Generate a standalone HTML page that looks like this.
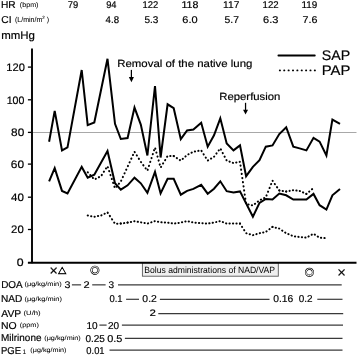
<!DOCTYPE html>
<html><head><meta charset="utf-8"><title>Hemodynamics after lung transplantation</title>
<style>html,body{margin:0;padding:0;background:#fff;width:358px;height:356px;overflow:hidden}svg{display:block}</style>
</head><body>
<svg width="358" height="356" viewBox="0 0 358 356" text-rendering="geometricPrecision">
<rect width="358" height="356" fill="#fff"/>
<g font-family='"Liberation Sans", Arial, sans-serif' fill="#000" stroke="#000" stroke-width="0.18">
<text x="0.96" y="8.25" font-size="10" textLength="14.72" lengthAdjust="spacingAndGlyphs">HR</text>
<text x="19.85" y="7.10" font-size="6.8" textLength="18.60" lengthAdjust="spacingAndGlyphs" stroke-width="0.05">(bpm)</text>
<text x="1.29" y="23.10" font-size="10" textLength="10.26" lengthAdjust="spacingAndGlyphs">CI</text>
<text x="67.71" y="8.30" font-size="9.8" textLength="10.44" lengthAdjust="spacingAndGlyphs">79</text>
<text x="106.16" y="8.30" font-size="9.8" textLength="10.32" lengthAdjust="spacingAndGlyphs">94</text>
<text x="142.59" y="8.30" font-size="9.8" textLength="15.79" lengthAdjust="spacingAndGlyphs">122</text>
<text x="181.40" y="8.30" font-size="9.8" textLength="16.97" lengthAdjust="spacingAndGlyphs">118</text>
<text x="223.13" y="8.30" font-size="9.8" textLength="16.30" lengthAdjust="spacingAndGlyphs">117</text>
<text x="262.58" y="8.30" font-size="9.8" textLength="16.12" lengthAdjust="spacingAndGlyphs">122</text>
<text x="301.56" y="8.30" font-size="9.8" textLength="15.81" lengthAdjust="spacingAndGlyphs">119</text>
<text x="105.58" y="22.70" font-size="9.8" textLength="13.43" lengthAdjust="spacingAndGlyphs">4.8</text>
<text x="144.40" y="22.70" font-size="9.8" textLength="13.93" lengthAdjust="spacingAndGlyphs">5.3</text>
<text x="182.35" y="22.70" font-size="9.8" textLength="15.26" lengthAdjust="spacingAndGlyphs">6.0</text>
<text x="224.58" y="22.70" font-size="9.8" textLength="14.44" lengthAdjust="spacingAndGlyphs">5.7</text>
<text x="263.05" y="22.70" font-size="9.8" textLength="15.32" lengthAdjust="spacingAndGlyphs">6.3</text>
<text x="302.44" y="22.70" font-size="9.8" textLength="14.92" lengthAdjust="spacingAndGlyphs">7.6</text>
<text x="1.23" y="38.70" font-size="11" textLength="33.71" lengthAdjust="spacingAndGlyphs">mmHg</text>
<text x="6.27" y="70.90" font-size="10.9" textLength="18.56" lengthAdjust="spacingAndGlyphs">120</text>
<text x="6.70" y="103.70" font-size="10.9" textLength="17.70" lengthAdjust="spacingAndGlyphs">100</text>
<text x="11.10" y="136.40" font-size="10.9" textLength="13.18" lengthAdjust="spacingAndGlyphs">80</text>
<text x="10.80" y="167.80" font-size="10.9" textLength="13.27" lengthAdjust="spacingAndGlyphs">60</text>
<text x="11.14" y="201.00" font-size="10.9" textLength="12.92" lengthAdjust="spacingAndGlyphs">40</text>
<text x="11.13" y="233.30" font-size="10.9" textLength="12.62" lengthAdjust="spacingAndGlyphs">20</text>
<text x="16.81" y="266.10" font-size="10.9" textLength="6.87" lengthAdjust="spacingAndGlyphs">0</text>
<text x="117.26" y="66.70" font-size="10.4" textLength="135.16" lengthAdjust="spacingAndGlyphs">Removal of the native lung</text>
<text x="219.27" y="99.90" font-size="10.4" textLength="61.10" lengthAdjust="spacingAndGlyphs">Reperfusion</text>
<text x="321.86" y="60.00" font-size="14" textLength="28.47" lengthAdjust="spacingAndGlyphs">SAP</text>
<text x="321.67" y="75.30" font-size="14" textLength="28.70" lengthAdjust="spacingAndGlyphs">PAP</text>
<text x="1.18" y="288.00" font-size="10" textLength="21.44" lengthAdjust="spacingAndGlyphs">DOA</text>
<text x="0.97" y="302.20" font-size="10" textLength="21.30" lengthAdjust="spacingAndGlyphs">NAD</text>
<text x="1.37" y="316.50" font-size="10" textLength="19.86" lengthAdjust="spacingAndGlyphs">AVP</text>
<text x="1.04" y="329.00" font-size="10" textLength="15.66" lengthAdjust="spacingAndGlyphs">NO</text>
<text x="1.08" y="341.20" font-size="10" textLength="40.37" lengthAdjust="spacingAndGlyphs">Milrinone</text>
<text x="1.02" y="353.70" font-size="10" textLength="20.08" lengthAdjust="spacingAndGlyphs">PGE</text>
<text x="24.44" y="286.40" font-size="6.3" textLength="37.24" lengthAdjust="spacingAndGlyphs" stroke-width="0.05">(μg/kg/min)</text>
<text x="24.64" y="300.50" font-size="6.3" textLength="37.24" lengthAdjust="spacingAndGlyphs" stroke-width="0.05">(μg/kg/min)</text>
<text x="23.52" y="315.20" font-size="6.3" textLength="17.16" lengthAdjust="spacingAndGlyphs" stroke-width="0.05">(U/h)</text>
<text x="19.84" y="327.40" font-size="6.3" textLength="19.02" lengthAdjust="spacingAndGlyphs" stroke-width="0.05">(ppm)</text>
<text x="44.25" y="339.70" font-size="6.3" textLength="36.52" lengthAdjust="spacingAndGlyphs" stroke-width="0.05">(μg/kg/min)</text>
<text x="30.35" y="351.90" font-size="6.3" textLength="36.11" lengthAdjust="spacingAndGlyphs" stroke-width="0.05">(μg/kg/min)</text>
<text x="64.50" y="287.90" font-size="9.6" textLength="5.97" lengthAdjust="spacingAndGlyphs">3</text>
<text x="83.45" y="287.80" font-size="9.6" textLength="6.11" lengthAdjust="spacingAndGlyphs">2</text>
<text x="108.62" y="287.90" font-size="9.6" textLength="5.62" lengthAdjust="spacingAndGlyphs">3</text>
<text x="109.42" y="302.10" font-size="10" textLength="13.13" lengthAdjust="spacingAndGlyphs">0.1</text>
<text x="142.38" y="302.10" font-size="10" textLength="14.44" lengthAdjust="spacingAndGlyphs">0.2</text>
<text x="273.19" y="302.20" font-size="10" textLength="20.06" lengthAdjust="spacingAndGlyphs">0.16</text>
<text x="298.70" y="302.20" font-size="10" textLength="13.80" lengthAdjust="spacingAndGlyphs">0.2</text>
<text x="149.53" y="316.30" font-size="9.4" textLength="6.36" lengthAdjust="spacingAndGlyphs">2</text>
<text x="86.55" y="328.60" font-size="10" textLength="11.15" lengthAdjust="spacingAndGlyphs">10</text>
<text x="107.90" y="328.60" font-size="10" textLength="11.10" lengthAdjust="spacingAndGlyphs">20</text>
<text x="85.40" y="341.70" font-size="10" textLength="19.52" lengthAdjust="spacingAndGlyphs">0.25</text>
<text x="107.26" y="341.70" font-size="10" textLength="15.18" lengthAdjust="spacingAndGlyphs">0.5</text>
<text x="86.33" y="353.80" font-size="10" textLength="18.23" lengthAdjust="spacingAndGlyphs">0.01</text>
</g>
<g font-family='"Liberation Sans", Arial, sans-serif' fill="#000" stroke="#000" stroke-width="0.05">
<text x="15.0" y="22.3" font-size="7.3" textLength="34" lengthAdjust="spacingAndGlyphs">(L/min/m<tspan font-size="4.6" dy="-3.3">2</tspan><tspan dy="3.3"> )</tspan></text>
<text x="22.5" y="353.9" font-size="6.6">1</text>
</g>
<line x1="33" y1="132.5" x2="356.5" y2="132.5" stroke="#a8a8a8" stroke-width="1"/>
<rect x="142.4" y="262.8" width="135.9" height="13.4" fill="#efefef" stroke="#5a5a5a" stroke-width="0.9"/>
<line x1="32.0" y1="48.6" x2="32.0" y2="263.3" stroke="#000" stroke-width="1.9"/>
<line x1="27.9" y1="262.7" x2="356.5" y2="262.7" stroke="#000" stroke-width="1.9"/>
<line x1="27.9" y1="67.1" x2="31" y2="67.1" stroke="#000" stroke-width="1.3"/>
<line x1="27.9" y1="99.8" x2="31" y2="99.8" stroke="#000" stroke-width="1.3"/>
<line x1="27.9" y1="132.4" x2="31" y2="132.4" stroke="#000" stroke-width="1.3"/>
<line x1="27.9" y1="164.1" x2="31" y2="164.1" stroke="#000" stroke-width="1.3"/>
<line x1="27.9" y1="197.2" x2="31" y2="197.2" stroke="#000" stroke-width="1.3"/>
<line x1="27.9" y1="229.5" x2="31" y2="229.5" stroke="#000" stroke-width="1.3"/>
<polyline points="49.1,141.8 54.7,110.9 62.0,150.4 67.5,147.4 81.7,70.0 87.7,125.1 94.3,122.5 107.5,58.8 115.0,123.8 120.8,139.0 127.6,138.0 134.5,107.6 140.8,124.6 147.4,155.5 155.0,86.1 160.6,157.5 167.6,104.3 173.7,108.2 180.8,139.2 187.1,130.4 193.4,129.6 201.2,122.7 207.7,146.7 214.0,135.3 220.3,118.3 226.7,143.4 233.5,150.4 240.0,145.4 246.1,176.2 252.9,166.9 259.5,160.2 265.8,146.7 272.5,145.4 279.3,134.0 286.2,127.2 293.3,146.7 299.6,148.4 306.4,150.4 313.5,137.8 319.6,141.6 326.4,155.5 332.4,119.6 340.0,123.9" fill="none" stroke="#000" stroke-width="2" stroke-linejoin="miter" stroke-miterlimit="4"/>
<polyline points="49.1,181.4 54.7,168.1 62.0,190.9 67.5,193.4 81.7,166.9 87.7,177.7 94.3,174.7 107.5,151.0 115.0,183.3 120.8,189.6 127.6,185.3 134.5,177.7 140.8,183.3 147.4,192.9 155.0,171.9 160.6,193.4 167.6,178.8 173.7,178.8 180.8,194.7 187.1,190.9 193.4,188.9 201.2,184.8 207.7,193.7 214.0,188.7 220.3,181.3 226.7,191.2 233.5,192.5 240.0,191.4 252.9,216.8 259.5,202.9 265.8,199.0 272.5,199.5 279.3,193.6 286.2,195.3 293.3,199.6 299.6,199.6 306.4,199.6 313.5,193.9 319.6,205.2 326.4,209.6 332.4,195.3 340.0,189.0" fill="none" stroke="#000" stroke-width="2" stroke-linejoin="miter" stroke-miterlimit="4"/>
<g stroke="#000" stroke-width="2.0" fill="none" stroke-linecap="round">
<line x1="87.7" y1="172.2" x2="94.3" y2="179.5" stroke-dasharray="0.25 3.56" stroke-dashoffset="0.00"/>
<line x1="94.3" y1="179.5" x2="101.0" y2="176.2" stroke-dasharray="0.25 3.32" stroke-dashoffset="2.08"/>
<line x1="101.0" y1="176.2" x2="107.5" y2="166.1" stroke-dasharray="0.25 3.69" stroke-dashoffset="2.66"/>
<line x1="107.5" y1="166.1" x2="115.0" y2="188.4" stroke-dasharray="0.25 3.86" stroke-dashoffset="2.99"/>
<line x1="115.0" y1="188.4" x2="120.8" y2="181.5" stroke-dasharray="0.25 3.59" stroke-dashoffset="1.74"/>
<line x1="120.8" y1="181.5" x2="134.5" y2="151.7" stroke-dasharray="0.25 3.79" stroke-dashoffset="3.24"/>
<line x1="134.5" y1="151.7" x2="140.8" y2="161.8" stroke-dasharray="0.25 3.70" stroke-dashoffset="3.63"/>
<line x1="140.8" y1="161.8" x2="147.4" y2="170.7" stroke-dasharray="0.25 3.64" stroke-dashoffset="3.63"/>
<line x1="147.4" y1="170.7" x2="155.0" y2="147.4" stroke-dasharray="0.25 3.86" stroke-dashoffset="3.24"/>
<line x1="155.0" y1="147.4" x2="160.6" y2="167.6" stroke-dasharray="0.25 3.89" stroke-dashoffset="3.08"/>
<line x1="160.6" y1="167.6" x2="167.6" y2="156.0" stroke-dasharray="0.25 3.71" stroke-dashoffset="3.21"/>
<line x1="167.6" y1="156.0" x2="173.7" y2="156.0" stroke-dasharray="0.25 3.20" stroke-dashoffset="0.81"/>
<line x1="173.7" y1="156.0" x2="180.8" y2="160.6" stroke-dasharray="0.25 3.38" stroke-dashoffset="0.01"/>
<line x1="180.8" y1="160.6" x2="187.1" y2="155.0" stroke-dasharray="0.25 3.48" stroke-dashoffset="1.24"/>
<line x1="187.1" y1="155.0" x2="193.4" y2="151.7" stroke-dasharray="0.25 3.33" stroke-dashoffset="2.12"/>
<line x1="193.4" y1="151.7" x2="201.2" y2="150.4" stroke-dasharray="0.25 3.22" stroke-dashoffset="2.00"/>
<line x1="201.2" y1="150.4" x2="207.7" y2="160.6" stroke-dasharray="0.25 3.69" stroke-dashoffset="3.39"/>
<line x1="207.7" y1="160.6" x2="214.0" y2="156.8" stroke-dasharray="0.25 3.36" stroke-dashoffset="3.36"/>
<line x1="214.0" y1="156.8" x2="220.3" y2="148.3" stroke-dasharray="0.25 3.64" stroke-dashoffset="3.76"/>
<line x1="220.3" y1="148.3" x2="226.7" y2="160.6" stroke-dasharray="0.25 3.76" stroke-dashoffset="2.76"/>
<line x1="226.7" y1="160.6" x2="233.5" y2="163.1" stroke-dasharray="0.25 3.27" stroke-dashoffset="0.53"/>
<line x1="233.5" y1="163.1" x2="240.0" y2="161.8" stroke-dasharray="0.25 3.22" stroke-dashoffset="0.73"/>
<line x1="240.0" y1="161.8" x2="246.1" y2="204.1" stroke-dasharray="0.25 3.94" stroke-dashoffset="0.50"/>
<line x1="246.1" y1="204.1" x2="252.9" y2="205.4" stroke-dasharray="0.25 3.22" stroke-dashoffset="1.12"/>
<line x1="252.9" y1="205.4" x2="259.5" y2="200.3" stroke-dasharray="0.25 3.43" stroke-dashoffset="1.17"/>
<line x1="259.5" y1="200.3" x2="265.8" y2="197.3" stroke-dasharray="0.25 3.31" stroke-dashoffset="2.07"/>
<line x1="265.8" y1="197.3" x2="272.5" y2="180.6" stroke-dasharray="0.25 3.82" stroke-dashoffset="2.21"/>
<line x1="272.5" y1="180.6" x2="279.3" y2="190.5" stroke-dasharray="0.25 3.66" stroke-dashoffset="3.76"/>
<line x1="279.3" y1="190.5" x2="286.2" y2="191.5" stroke-dasharray="0.25 3.21" stroke-dashoffset="0.10"/>
<line x1="286.2" y1="191.5" x2="293.3" y2="190.2" stroke-dasharray="0.25 3.22" stroke-dashoffset="0.15"/>
<line x1="293.3" y1="190.2" x2="299.6" y2="190.9" stroke-dasharray="0.25 3.21" stroke-dashoffset="0.43"/>
<line x1="299.6" y1="190.9" x2="306.4" y2="193.9" stroke-dasharray="0.25 3.30" stroke-dashoffset="3.40"/>
<line x1="306.4" y1="193.9" x2="313.5" y2="188.0" stroke-dasharray="0.25 3.46" stroke-dashoffset="0.20"/>
<line x1="87.7" y1="215.5" x2="94.3" y2="216.8" stroke-dasharray="0.25 3.22" stroke-dashoffset="0.00"/>
<line x1="94.3" y1="216.8" x2="101.0" y2="215.5" stroke-dasharray="0.25 3.22" stroke-dashoffset="3.25"/>
<line x1="101.0" y1="215.5" x2="107.5" y2="212.4" stroke-dasharray="0.25 3.31" stroke-dashoffset="3.22"/>
<line x1="107.5" y1="212.4" x2="115.0" y2="223.7" stroke-dasharray="0.25 3.68" stroke-dashoffset="3.64"/>
<line x1="115.0" y1="223.7" x2="120.8" y2="223.6" stroke-dasharray="0.25 3.20" stroke-dashoffset="1.32"/>
<line x1="120.8" y1="223.6" x2="127.6" y2="222.6" stroke-dasharray="0.25 3.21" stroke-dashoffset="0.22"/>
<line x1="127.6" y1="222.6" x2="134.5" y2="221.3" stroke-dasharray="0.25 3.22" stroke-dashoffset="0.17"/>
<line x1="134.5" y1="221.3" x2="140.8" y2="222.3" stroke-dasharray="0.25 3.21" stroke-dashoffset="0.25"/>
<line x1="140.8" y1="222.3" x2="147.4" y2="223.6" stroke-dasharray="0.25 3.22" stroke-dashoffset="3.17"/>
<line x1="147.4" y1="223.6" x2="155.0" y2="221.1" stroke-dasharray="0.25 3.26" stroke-dashoffset="2.99"/>
<line x1="155.0" y1="221.1" x2="160.6" y2="222.3" stroke-dasharray="0.25 3.23" stroke-dashoffset="0.46"/>
<line x1="160.6" y1="222.3" x2="167.6" y2="222.6" stroke-dasharray="0.25 3.20" stroke-dashoffset="2.69"/>
<line x1="167.6" y1="222.6" x2="173.7" y2="223.6" stroke-dasharray="0.25 3.21" stroke-dashoffset="2.81"/>
<line x1="173.7" y1="223.6" x2="180.8" y2="222.6" stroke-dasharray="0.25 3.21" stroke-dashoffset="2.06"/>
<line x1="180.8" y1="222.6" x2="187.1" y2="221.1" stroke-dasharray="0.25 3.23" stroke-dashoffset="2.32"/>
<line x1="187.1" y1="221.1" x2="193.4" y2="222.6" stroke-dasharray="0.25 3.23" stroke-dashoffset="1.84"/>
<line x1="193.4" y1="222.6" x2="201.2" y2="223.1" stroke-dasharray="0.25 3.20" stroke-dashoffset="1.34"/>
<line x1="201.2" y1="223.1" x2="207.7" y2="223.6" stroke-dasharray="0.25 3.20" stroke-dashoffset="2.25"/>
<line x1="207.7" y1="223.6" x2="214.0" y2="222.6" stroke-dasharray="0.25 3.21" stroke-dashoffset="1.87"/>
<line x1="214.0" y1="222.6" x2="220.3" y2="221.1" stroke-dasharray="0.25 3.23" stroke-dashoffset="1.33"/>
<line x1="220.3" y1="221.1" x2="226.7" y2="223.6" stroke-dasharray="0.25 3.28" stroke-dashoffset="0.85"/>
<line x1="226.7" y1="223.6" x2="233.5" y2="223.6" stroke-dasharray="0.25 3.20" stroke-dashoffset="0.65"/>
<line x1="233.5" y1="223.6" x2="240.0" y2="223.6" stroke-dasharray="0.25 3.20" stroke-dashoffset="0.55"/>
<line x1="240.0" y1="223.6" x2="246.1" y2="233.2" stroke-dasharray="0.25 3.69" stroke-dashoffset="0.18"/>
<line x1="246.1" y1="233.2" x2="252.9" y2="235.2" stroke-dasharray="0.25 3.25" stroke-dashoffset="3.25"/>
<line x1="252.9" y1="235.2" x2="259.5" y2="233.2" stroke-dasharray="0.25 3.25" stroke-dashoffset="3.35"/>
<line x1="259.5" y1="233.2" x2="265.8" y2="231.9" stroke-dasharray="0.25 3.22" stroke-dashoffset="3.23"/>
<line x1="265.8" y1="231.9" x2="272.5" y2="226.9" stroke-dasharray="0.25 3.42" stroke-dashoffset="2.87"/>
<line x1="272.5" y1="226.9" x2="279.3" y2="228.6" stroke-dasharray="0.25 3.23" stroke-dashoffset="0.20"/>
<line x1="279.3" y1="228.6" x2="286.2" y2="233.2" stroke-dasharray="0.25 3.39" stroke-dashoffset="0.25"/>
<line x1="286.2" y1="233.2" x2="293.3" y2="236.2" stroke-dasharray="0.25 3.29" stroke-dashoffset="1.23"/>
<line x1="293.3" y1="236.2" x2="299.6" y2="237.0" stroke-dasharray="0.25 3.21" stroke-dashoffset="1.82"/>
<line x1="299.6" y1="237.0" x2="306.4" y2="237.7" stroke-dasharray="0.25 3.21" stroke-dashoffset="1.25"/>
<line x1="306.4" y1="237.7" x2="313.5" y2="233.7" stroke-dasharray="0.25 3.35" stroke-dashoffset="1.22"/>
<line x1="313.5" y1="233.7" x2="319.6" y2="237.7" stroke-dasharray="0.25 3.38" stroke-dashoffset="2.21"/>
<line x1="319.6" y1="237.7" x2="326.4" y2="238.2" stroke-dasharray="0.25 3.20" stroke-dashoffset="2.12"/>
</g>
<line x1="278.4" y1="55.5" x2="314.8" y2="55.5" stroke="#000" stroke-width="1.8" stroke-linecap="round"/>
<line x1="279.8" y1="70.4" x2="315.5" y2="70.4" stroke="#000" stroke-width="1.85" stroke-dasharray="0.2 4.17" stroke-linecap="round"/>
<line x1="131.4" y1="69.9" x2="131.4" y2="78.0" stroke="#000" stroke-width="1.25"/>
<path d="M128.85,77.0 L133.95000000000002,77.0 L131.4,82.2 Z" fill="#000"/>
<line x1="245.55" y1="102.8" x2="245.55" y2="110.8" stroke="#000" stroke-width="1.25"/>
<path d="M243.05,109.8 L248.05,109.8 L245.55,114.6 Z" fill="#000"/>
<text x="48.9" y="274.1" font-size="11" font-family="'DejaVu Sans', sans-serif" stroke="#000" stroke-width="0.3">×</text>
<text x="57.95" y="273.9" font-size="8.4" font-family="'Liberation Sans', 'Noto Sans CJK JP', sans-serif" stroke="#000" stroke-width="0.55">△</text>
<text x="90.0" y="274.3" font-size="9.8" font-family="'Liberation Sans', 'Noto Sans CJK JP', sans-serif" stroke="#000" stroke-width="0.2">◎</text>
<text x="304.6" y="275.9" font-size="9.9" font-family="'Liberation Sans', 'Noto Sans CJK JP', sans-serif" stroke="#000" stroke-width="0.15">◎</text>
<text x="336.8" y="276.2" font-size="11.45" font-family="'DejaVu Sans', sans-serif" stroke="#000" stroke-width="0.2">×</text>
<g font-family='"Liberation Sans", Arial, sans-serif' fill="#000">
<text x="144.29" y="272.70" font-size="9" textLength="130.76" lengthAdjust="spacingAndGlyphs">Bolus administrations of NAD/VAP</text>
</g>
<line x1="71.9" y1="284.85" x2="81.1" y2="284.85" stroke="#3a3a3a" stroke-width="1.2"/>
<line x1="92.2" y1="284.85" x2="105.6" y2="284.85" stroke="#3a3a3a" stroke-width="1.2"/>
<line x1="118" y1="284.85" x2="341.7" y2="284.85" stroke="#3a3a3a" stroke-width="1.2"/>
<line x1="126.1" y1="299.3" x2="139" y2="299.3" stroke="#3a3a3a" stroke-width="1.2"/>
<line x1="159.9" y1="299.3" x2="269.5" y2="299.3" stroke="#3a3a3a" stroke-width="1.2"/>
<line x1="317.3" y1="299.3" x2="342.5" y2="299.3" stroke="#3a3a3a" stroke-width="1.2"/>
<line x1="158.3" y1="313.6" x2="343.2" y2="313.6" stroke="#3a3a3a" stroke-width="1.2"/>
<line x1="99.4" y1="325.1" x2="106.6" y2="325.1" stroke="#3a3a3a" stroke-width="1.2"/>
<line x1="121.9" y1="325.1" x2="343" y2="325.1" stroke="#3a3a3a" stroke-width="1.2"/>
<line x1="124.9" y1="338.3" x2="342.5" y2="338.3" stroke="#3a3a3a" stroke-width="1.2"/>
<line x1="109.5" y1="350.2" x2="342.5" y2="350.2" stroke="#3a3a3a" stroke-width="1.2"/>
</svg>
</body></html>
